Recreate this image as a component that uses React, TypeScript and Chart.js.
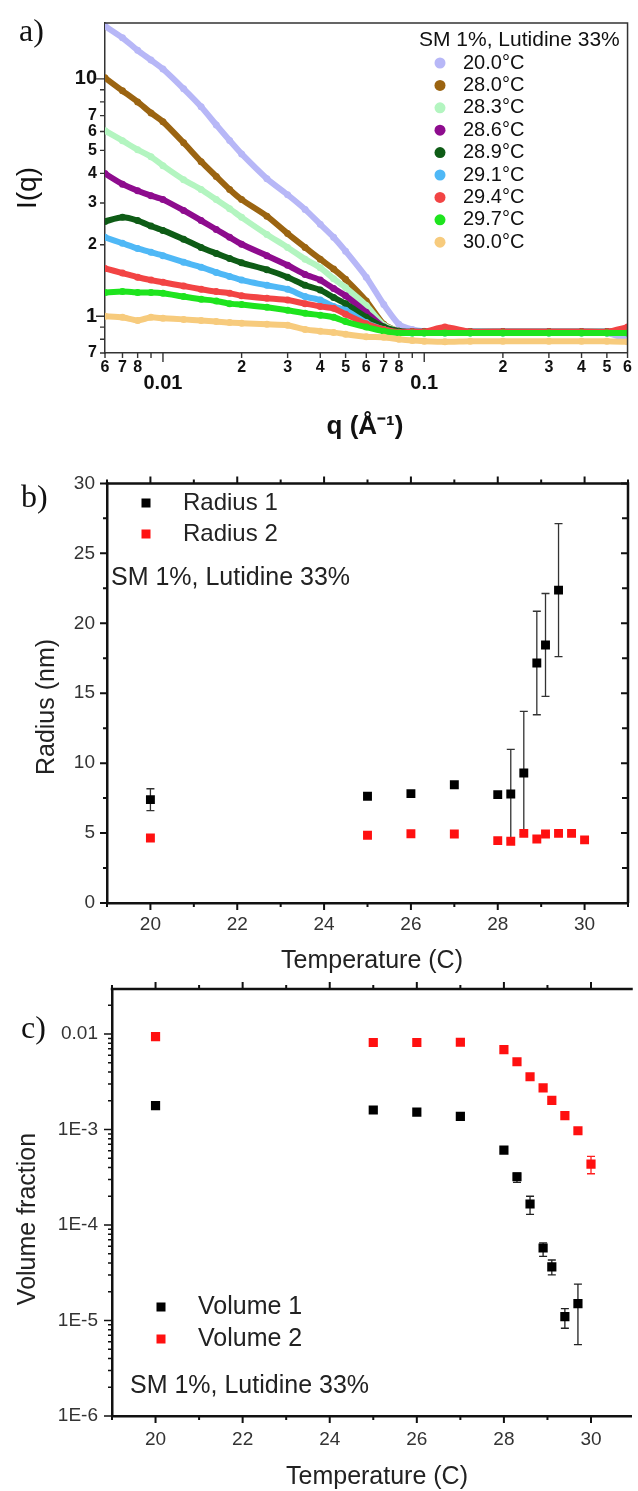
import React, { useEffect, useRef } from 'react';
import { Chart, registerables } from 'chart.js';
Chart.register(...registerables);

const SANS = '"Liberation Sans", Arial, Helvetica, sans-serif';
const SERIF = '"Liberation Serif", "Times New Roman", serif';
const W = 638;

// ---------------- Panel a : SAXS curves ----------------
const qValues = [0.006, 0.007, 0.008, 0.009, 0.01, 0.012, 0.014, 0.016, 0.018, 0.02, 0.025, 0.03, 0.035, 0.04, 0.045, 0.05, 0.06, 0.07, 0.08, 0.09, 0.1, 0.12, 0.15, 0.2, 0.3, 0.4, 0.5, 0.6];
const sasLabels = ['20.0°C', '28.0°C', '28.3°C', '28.6°C', '28.9°C', '29.1°C', '29.4°C', '29.7°C', '30.0°C'];
const sasColors = ['#b7b7f7', '#9b6411', '#b3f5c0', '#8e0c8e', '#0e5c16', '#4fb8f6', '#f24444', '#1ee41e', '#f7cb7d'];
const I_20_0 = [16.7, 14.9, 13.2, 12.0, 11.0, 9.08, 7.63, 6.4, 5.5, 4.83, 3.8, 3.25, 2.82, 2.44, 2.15, 1.88, 1.46, 1.12, 0.925, 0.88, 0.865, 0.86, 0.86, 0.86, 0.86, 0.86, 0.85, 0.8];
const I_28_0 = [10.1, 8.91, 8.0, 7.19, 6.6, 5.38, 4.48, 3.88, 3.42, 3.1, 2.64, 2.23, 1.95, 1.74, 1.58, 1.43, 1.16, 0.925, 0.865, 0.857, 0.857, 0.86, 0.855, 0.855, 0.855, 0.855, 0.855, 0.86];
const I_28_3 = [6.05, 5.49, 5.03, 4.7, 4.31, 3.76, 3.42, 3.1, 2.84, 2.61, 2.21, 1.95, 1.74, 1.6, 1.44, 1.32, 1.11, 0.917, 0.865, 0.86, 0.86, 0.86, 0.86, 0.86, 0.86, 0.86, 0.86, 0.86];
const I_28_6 = [3.99, 3.6, 3.38, 3.22, 3.1, 2.79, 2.53, 2.32, 2.15, 2.01, 1.8, 1.64, 1.5, 1.42, 1.31, 1.22, 1.04, 0.9, 0.865, 0.86, 0.86, 0.86, 0.86, 0.86, 0.86, 0.86, 0.86, 0.86];
const I_28_9 = [2.51, 2.61, 2.53, 2.4, 2.3, 2.11, 1.95, 1.84, 1.75, 1.68, 1.57, 1.46, 1.35, 1.29, 1.2, 1.13, 0.99, 0.9, 0.865, 0.86, 0.86, 0.86, 0.86, 0.86, 0.86, 0.86, 0.86, 0.86];
const I_29_1 = [2.15, 2.03, 1.93, 1.86, 1.8, 1.69, 1.61, 1.53, 1.47, 1.42, 1.35, 1.3, 1.21, 1.17, 1.1, 1.06, 0.94, 0.88, 0.85, 0.85, 0.85, 0.85, 0.85, 0.85, 0.85, 0.85, 0.85, 0.85];
const I_29_4 = [1.59, 1.52, 1.46, 1.42, 1.39, 1.34, 1.3, 1.27, 1.25, 1.22, 1.19, 1.17, 1.13, 1.1, 1.08, 1.02, 0.93, 0.88, 0.857, 0.86, 0.86, 0.9, 0.86, 0.86, 0.86, 0.86, 0.86, 0.9];
const I_29_7 = [1.26, 1.27, 1.26, 1.26, 1.25, 1.21, 1.18, 1.16, 1.13, 1.12, 1.09, 1.06, 1.03, 1.01, 0.99, 0.95, 0.9, 0.865, 0.85, 0.85, 0.85, 0.85, 0.85, 0.85, 0.85, 0.85, 0.85, 0.85];
const I_30_0 = [1.0, 0.99, 0.96, 0.99, 0.98, 0.97, 0.96, 0.95, 0.94, 0.935, 0.925, 0.917, 0.88, 0.865, 0.855, 0.84, 0.82, 0.816, 0.8, 0.79, 0.785, 0.78, 0.785, 0.785, 0.785, 0.785, 0.785, 0.78];
const sasSeries = [I_20_0, I_28_0, I_28_3, I_28_6, I_28_9, I_29_1, I_29_4, I_29_7, I_30_0];
const legendTitle = 'SM 1%, Lutidine 33%';

const xTicksA = [0.006, 0.007, 0.008, 0.009, 0.01, 0.02, 0.03, 0.04, 0.05, 0.06, 0.07, 0.08, 0.09, 0.1, 0.2, 0.3, 0.4, 0.5, 0.6];
const xTickTextA = ['6', '7', '8', '', '0.01', '2', '3', '4', '5', '6', '7', '8', '', '0.1', '2', '3', '4', '5', '6'];
const xMajorA = [0.01, 0.1];
const yTicksA = [0.7, 0.8, 0.9, 1, 2, 3, 4, 5, 6, 7, 8, 9, 10];
const yTickTextA = ['7', '', '', '1', '2', '3', '4', '5', '6', '7', '', '', '10'];
const yMajorA = [1, 10];

// ---------------- Panel b : radii ----------------
const tempsB = [20, 25, 26, 27, 28, 28.3, 28.6, 28.9, 29.1, 29.4, 29.7, 30.0];
const radius1 = [7.39, 7.63, 7.82, 8.45, 7.75, 7.79, 9.3, 17.16, 18.45, 22.37];
const radius1Err = [0.78, 0, 0, 0, 0, 3.2, 4.4, 3.7, 3.68, 4.75];
const radius2 = [4.65, 4.84, 4.95, 4.93, 4.46, 4.41, 4.98, 4.58, 4.93, 4.98, 4.98, 4.51];
const radiusLabels = ['Radius 1', 'Radius 2'];
const xTicksB = [19, 20, 21, 22, 23, 24, 25, 26, 27, 28, 29, 30, 31];
const xTickTextB = ['', '20', '', '22', '', '24', '', '26', '', '28', '', '30', ''];
const yTicksB = [0, 2.5, 5, 7.5, 10, 12.5, 15, 17.5, 20, 22.5, 25, 27.5, 30];
const yTickTextB = ['0', '', '5', '', '10', '', '15', '', '20', '', '25', '', '30'];

// ---------------- Panel c : volume fractions ----------------
const tempsC = [20, 25, 26, 27, 28, 28.3, 28.6, 28.9, 29.1, 29.4, 29.7, 30.0];
const vol1 = [1.78e-3, 1.6e-3, 1.52e-3, 1.37e-3, 6.09e-4, 3.2e-4, 1.66e-4, 5.74e-5, 3.64e-5, 1.1e-5, 1.5e-5];
const vol1ErrLow = [null, null, null, null, null, 2.79e-4, 1.29e-4, 4.7e-5, 3.0e-5, 8.3e-6, 5.6e-6];
const vol1ErrHigh = [null, null, null, null, null, 3.49e-4, 2.0e-4, 6.5e-5, 4.3e-5, 1.33e-5, 2.4e-5];
const vol2 = [9.4e-3, 8.15e-3, 8.15e-3, 8.2e-3, 6.87e-3, 5.12e-3, 3.57e-3, 2.73e-3, 2.02e-3, 1.4e-3, 9.7e-4, 4.33e-4];
const vol2ErrLow = [null, null, null, null, null, null, null, null, null, null, null, 3.44e-4];
const vol2ErrHigh = [null, null, null, null, null, null, null, null, null, null, null, 5.22e-4];
const volumeLabels = ['Volume 1', 'Volume 2'];
const xTicksC = [19, 20, 21, 22, 23, 24, 25, 26, 27, 28, 29, 30];
const xTickTextC = ['', '20', '', '22', '', '24', '', '26', '', '28', '', '30'];
const yMajorC = [1e-6, 1e-5, 1e-4, 1e-3, 1e-2];
const yMajorTextC = ['1E-6', '1E-5', '1E-4', '1E-3', '0.01'];

// ---------------- decoration plugin ----------------
type TickSpec = { axis: string; side: 'left' | 'right' | 'bottom' | 'top'; isMajor: (v: number) => boolean; major: number; minor: number; inward?: boolean; color: string; width: number };
type TextSpec = { text: string; x: number; y: number; font: string; color?: string; align?: CanvasTextAlign; baseline?: CanvasTextBaseline; rotate?: boolean };
type MarkSpec = { shape: 'circle' | 'square'; x: number; y: number; size: number; color: string };
type ErrSpec = { datasetIndex: number; low: (number | null)[]; high: (number | null)[]; color: string; cap: number };

function makeDeco(cfg: { offsetY: number; ticks: TickSpec[]; frame: { top?: boolean; right?: boolean; color: string; width: number }; errors?: ErrSpec[]; marks?: MarkSpec[]; texts?: TextSpec[] }) {
  return {
    id: 'deco',
    beforeDatasetsDraw(chart: any) {
      const ctx = chart.ctx;
      (cfg.errors || []).forEach((e) => {
        const meta = chart.getDatasetMeta(e.datasetIndex);
        const ys = chart.scales.y;
        ctx.save();
        ctx.strokeStyle = e.color;
        ctx.lineWidth = 1.3;
        meta.data.forEach((el: any, i: number) => {
          const lo = e.low[i];
          const hi = e.high[i];
          if (lo == null || hi == null) return;
          const x = el.x;
          const y1 = ys.getPixelForValue(lo);
          const y2 = ys.getPixelForValue(hi);
          ctx.beginPath();
          ctx.moveTo(x, y1); ctx.lineTo(x, y2);
          ctx.moveTo(x - e.cap, y1); ctx.lineTo(x + e.cap, y1);
          ctx.moveTo(x - e.cap, y2); ctx.lineTo(x + e.cap, y2);
          ctx.stroke();
        });
        ctx.restore();
      });
    },
    afterDraw(chart: any) {
      const ctx = chart.ctx;
      const a = chart.chartArea;
      ctx.save();
      ctx.strokeStyle = cfg.frame.color;
      ctx.lineWidth = cfg.frame.width;
      ctx.beginPath();
      if (cfg.frame.top) { ctx.moveTo(a.left - cfg.frame.width / 2, a.top); ctx.lineTo(a.right + cfg.frame.width / 2, a.top); }
      if (cfg.frame.right) { ctx.moveTo(a.right, a.top); ctx.lineTo(a.right, a.bottom); }
      ctx.stroke();
      cfg.ticks.forEach((t) => {
        const s = chart.scales[t.axis];
        ctx.strokeStyle = t.color;
        ctx.lineWidth = t.width;
        ctx.beginPath();
        s.ticks.forEach((tk: any) => {
          const v = tk.value;
          const p = s.getPixelForValue(v);
          const len = t.isMajor(v) ? t.major : t.minor;
          const dir = t.inward ? -1 : 1;
          if (t.side === 'left' || t.side === 'right') {
            if (p < a.top - 1 || p > a.bottom + 1) return;
            const x0 = t.side === 'left' ? a.left : a.right;
            const sign = t.side === 'left' ? -1 : 1;
            ctx.moveTo(x0, p); ctx.lineTo(x0 + sign * dir * len, p);
          } else {
            if (p < a.left - 1 || p > a.right + 1) return;
            const y0 = t.side === 'bottom' ? a.bottom : a.top;
            const sign = t.side === 'bottom' ? 1 : -1;
            ctx.moveTo(p, y0); ctx.lineTo(p, y0 + sign * dir * len);
          }
        });
        ctx.stroke();
      });
      (cfg.marks || []).forEach((m) => {
        ctx.fillStyle = m.color;
        const y = m.y - cfg.offsetY;
        if (m.shape === 'circle') {
          ctx.beginPath(); ctx.arc(m.x, y, m.size, 0, Math.PI * 2); ctx.fill();
        } else {
          ctx.fillRect(m.x - m.size / 2, y - m.size / 2, m.size, m.size);
        }
      });
      (cfg.texts || []).forEach((tx) => {
        ctx.save();
        ctx.font = tx.font;
        ctx.fillStyle = tx.color || '#111';
        ctx.textAlign = tx.align || 'left';
        ctx.textBaseline = tx.baseline || 'middle';
        const y = tx.y - cfg.offsetY;
        if (tx.rotate) {
          ctx.translate(tx.x, y);
          ctx.rotate(-Math.PI / 2);
          ctx.fillText(tx.text, 0, 0);
        } else {
          ctx.fillText(tx.text, tx.x, y);
        }
        ctx.restore();
      });
      ctx.restore();
    },
  };
}

const f = (size: number, weight = 'normal', family = SANS) => `${weight} ${size}px ${family}`;

// ---------------- Panel a config ----------------
const TOP_A = 0, H_A = 460;
function buildA() {
  const area = { left: 105, top: 23, right: 631, bottom: 353 };
  const deco = makeDeco({
    offsetY: TOP_A,
    frame: { top: true, right: true, color: '#333', width: 1.5 },
    ticks: [
      { axis: 'x', side: 'bottom', isMajor: (v) => xMajorA.some((m) => Math.abs(m - v) < 1e-9), major: 9, minor: 5, color: '#333', width: 1.4 },
      { axis: 'y', side: 'left', isMajor: (v) => yMajorA.some((m) => Math.abs(m - v) < 1e-9), major: 9, minor: 5, color: '#333', width: 1.4 },
    ],
    marks: sasColors.map((c, i) => ({ shape: 'circle' as const, x: 440, y: 63 + 22.4 * i, size: 5.5, color: c })),
    texts: [
      { text: 'a)', x: 19, y: 41, font: f(32, 'normal', SERIF), baseline: 'alphabetic' },
      { text: 'I(q)', x: 28, y: 188, font: f(28), rotate: true, align: 'center' },
      { text: 'q (Å⁻¹)', x: 365, y: 427, font: f(26, 'bold'), align: 'center' },
      { text: legendTitle, x: 419, y: 40, font: f(21) },
      ...sasLabels.map((l, i) => ({ text: l, x: 463, y: 63 + 22.4 * i, font: f(20) })),
    ],
  });
  return {
    type: 'line',
    data: {
      datasets: sasLabels.map((label, i) => ({
        label,
        data: qValues.map((q, j) => ({ x: q, y: sasSeries[i][j] })),
        borderColor: sasColors[i],
        backgroundColor: sasColors[i],
        borderWidth: 6,
        pointRadius: 3.5,
        pointBorderWidth: 0,
        tension: 0.2,
        fill: false,
        order: 9 - i,
      })),
    },
    options: {
      responsive: false,
      animation: false,
      events: [],
      layout: { padding: { left: 0, top: area.top, right: W - area.right, bottom: 0 } },
      plugins: { legend: { display: false }, tooltip: { enabled: false } },
      scales: {
        x: {
          type: 'logarithmic', min: 0.006, max: 0.6,
          afterFit: (s: any) => { s.height = H_A - area.bottom; },
          afterBuildTicks: (s: any) => { s.ticks = xTicksA.map((v) => ({ value: v })); },
          ticks: {
            autoSkip: false, maxRotation: 0, minRotation: 0, padding: 6, color: '#111',
            font: (c: any) => (xMajorA.includes(xTicksA[c.index]) ? { family: SANS, size: 20, weight: 'bold', lineHeight: '16px' } : { family: SANS, size: 16, weight: 'bold', lineHeight: '18px' }),
            callback: (_v: any, i: number) => (xMajorA.includes(xTicksA[i]) ? ['', xTickTextA[i]] : xTickTextA[i]),
          },
          grid: { display: true, drawOnChartArea: false, drawTicks: false },
          border: { display: true, color: '#333', width: 1.5 },
        },
        y: {
          type: 'logarithmic', min: 0.705, max: 17.2,
          afterFit: (s: any) => { s.width = area.left; },
          afterBuildTicks: (s: any) => { s.ticks = yTicksA.map((v) => ({ value: v })); },
          ticks: {
            autoSkip: false, padding: 8, color: '#111',
            font: (c: any) => (yMajorA.includes(yTicksA[c.index]) ? { family: SANS, size: 20, weight: 'bold' } : { family: SANS, size: 16, weight: 'bold' }),
            callback: (_v: any, i: number) => yTickTextA[i],
          },
          grid: { display: true, drawOnChartArea: false, drawTicks: false },
          border: { display: true, color: '#333', width: 1.5 },
        },
      },
    },
    plugins: [deco],
  };
}

// ---------------- Panel b config ----------------
const TOP_B = 460, H_B = 520;
function buildB() {
  const area = { left: 107, top: 477 - TOP_B, right: 636, bottom: 903 - TOP_B };
  const deco = makeDeco({
    offsetY: TOP_B,
    frame: { top: true, right: true, color: '#111', width: 2.5 },
    errors: [{ datasetIndex: 0, low: radius1.map((v, i) => (radius1Err[i] ? v - radius1Err[i] : null)), high: radius1.map((v, i) => (radius1Err[i] ? v + radius1Err[i] : null)), color: '#333', cap: 4 }],
    ticks: [
      { axis: 'x', side: 'bottom', isMajor: (v) => v % 2 === 0, major: 7, minor: 4, color: '#111', width: 2 },
      { axis: 'x', side: 'top', isMajor: (v) => v % 2 === 0, major: 7, minor: 4, color: '#111', width: 2 },
      { axis: 'y', side: 'left', isMajor: (v) => v % 5 === 0, major: 7, minor: 4, color: '#111', width: 2 },
      { axis: 'y', side: 'right', isMajor: (v) => v % 5 === 0, major: 7, minor: 6, inward: true, color: '#111', width: 2 },
    ],
    marks: [
      { shape: 'square', x: 146, y: 503, size: 9, color: '#000' },
      { shape: 'square', x: 146, y: 534, size: 9, color: '#ff1010' },
    ],
    texts: [
      { text: 'b)', x: 21, y: 507, font: f(32, 'normal', SERIF), baseline: 'alphabetic' },
      { text: radiusLabels[0], x: 183, y: 503, font: f(24), color: '#222' },
      { text: radiusLabels[1], x: 183, y: 534, font: f(24), color: '#222' },
      { text: legendTitle, x: 111, y: 578, font: f(25), color: '#222' },
      { text: 'Radius (nm)', x: 47, y: 707, font: f(25), rotate: true, align: 'center', color: '#222' },
      { text: 'Temperature (C)', x: 372, y: 961, font: f(25), align: 'center', color: '#222' },
    ],
  });
  return {
    type: 'scatter',
    data: {
      datasets: [
        { label: radiusLabels[0], data: radius1.map((v, i) => ({ x: tempsB[i], y: v })), pointStyle: 'rect', pointRadius: 6.3, pointBorderWidth: 0, backgroundColor: '#000', borderColor: '#000' },
        { label: radiusLabels[1], data: radius2.map((v, i) => ({ x: tempsB[i], y: v })), pointStyle: 'rect', pointRadius: 6.3, pointBorderWidth: 0, backgroundColor: '#ff1010', borderColor: '#ff1010' },
      ],
    },
    options: {
      responsive: false,
      animation: false,
      events: [],
      layout: { padding: { left: 0, top: area.top, right: W - area.right, bottom: 0 } },
      plugins: { legend: { display: false }, tooltip: { enabled: false } },
      scales: {
        x: {
          type: 'linear', min: 19, max: 31,
          afterFit: (s: any) => { s.height = H_B - area.bottom; },
          afterBuildTicks: (s: any) => { s.ticks = xTicksB.map((v) => ({ value: v })); },
          ticks: { autoSkip: false, maxRotation: 0, padding: 10, color: '#333', font: { family: SANS, size: 19 }, callback: (_v: any, i: number) => xTickTextB[i] },
          grid: { display: true, drawOnChartArea: false, drawTicks: false },
          border: { display: true, color: '#111', width: 2.5 },
        },
        y: {
          type: 'linear', min: 0, max: 30,
          afterFit: (s: any) => { s.width = area.left; },
          afterBuildTicks: (s: any) => { s.ticks = yTicksB.map((v) => ({ value: v })); },
          ticks: { autoSkip: false, padding: 12, color: '#333', font: { family: SANS, size: 19 }, callback: (_v: any, i: number) => yTickTextB[i] },
          grid: { display: true, drawOnChartArea: false, drawTicks: false },
          border: { display: true, color: '#111', width: 2.5 },
        },
      },
    },
    plugins: [deco],
  };
}

// ---------------- Panel c config ----------------
const TOP_C = 955, H_C = 536;
function buildC() {
  const area = { left: 112, top: 989 - TOP_C, right: 638, bottom: 1416 - TOP_C };
  const yTicksC: number[] = [];
  yMajorC.forEach((d) => { for (let m = 1; m <= 9; m++) { const v = d * m; if (v <= 0.0296) yTicksC.push(v); } });
  const isDecade = (v: number) => yMajorC.some((m) => Math.abs(v / m - 1) < 1e-6);
  const deco = makeDeco({
    offsetY: TOP_C,
    frame: { top: true, right: false, color: '#111', width: 2.5 },
    errors: [
      { datasetIndex: 0, low: vol1ErrLow, high: vol1ErrHigh, color: '#222', cap: 4 },
      { datasetIndex: 1, low: vol2ErrLow, high: vol2ErrHigh, color: '#ff2020', cap: 4 },
    ],
    ticks: [
      { axis: 'x', side: 'bottom', isMajor: (v) => v % 2 === 0, major: 7, minor: 4, color: '#111', width: 2 },
      { axis: 'x', side: 'top', isMajor: (v) => v % 2 === 0, major: 7, minor: 4, color: '#111', width: 2 },
      { axis: 'y', side: 'left', isMajor: isDecade, major: 8, minor: 4, color: '#111', width: 1.5 },
    ],
    marks: [
      { shape: 'square', x: 161, y: 1307, size: 9, color: '#000' },
      { shape: 'square', x: 161, y: 1339, size: 9, color: '#ff1010' },
    ],
    texts: [
      { text: 'c)', x: 21, y: 1038, font: f(32, 'normal', SERIF), baseline: 'alphabetic' },
      { text: volumeLabels[0], x: 198, y: 1307, font: f(25), color: '#222' },
      { text: volumeLabels[1], x: 198, y: 1339, font: f(25), color: '#222' },
      { text: legendTitle, x: 130, y: 1386, font: f(25), color: '#222' },
      { text: 'Volume fraction', x: 28, y: 1219, font: f(25), rotate: true, align: 'center', color: '#222' },
      { text: 'Temperature (C)', x: 377, y: 1477, font: f(25), align: 'center', color: '#222' },
    ],
  });
  return {
    type: 'scatter',
    data: {
      datasets: [
        { label: volumeLabels[0], data: vol1.map((v, i) => ({ x: tempsC[i], y: v })), pointStyle: 'rect', pointRadius: 6.5, pointBorderWidth: 0, backgroundColor: '#000', borderColor: '#000' },
        { label: volumeLabels[1], data: vol2.map((v, i) => ({ x: tempsC[i], y: v })), pointStyle: 'rect', pointRadius: 6.5, pointBorderWidth: 0, backgroundColor: '#ff1010', borderColor: '#ff1010' },
      ],
    },
    options: {
      responsive: false,
      animation: false,
      events: [],
      layout: { padding: { left: 0, top: area.top, right: W - area.right, bottom: 0 } },
      plugins: { legend: { display: false }, tooltip: { enabled: false } },
      scales: {
        x: {
          type: 'linear', min: 19, max: 30.93,
          afterFit: (s: any) => { s.height = H_C - area.bottom; },
          afterBuildTicks: (s: any) => { s.ticks = xTicksC.map((v) => ({ value: v })); },
          ticks: { autoSkip: false, maxRotation: 0, padding: 12, color: '#333', font: { family: SANS, size: 19 }, callback: (_v: any, i: number) => xTickTextC[i] },
          grid: { display: true, drawOnChartArea: false, drawTicks: false },
          border: { display: true, color: '#111', width: 2.5 },
        },
        y: {
          type: 'logarithmic', min: 1e-6, max: 0.0296,
          afterFit: (s: any) => { s.width = area.left; },
          afterBuildTicks: (s: any) => { s.ticks = yTicksC.map((v) => ({ value: v })); },
          ticks: {
            autoSkip: false, padding: 14, color: '#333', font: { family: SANS, size: 19 },
            callback: (v: any) => { const k = yMajorC.findIndex((m) => Math.abs(v / m - 1) < 1e-6); return k >= 0 ? yMajorTextC[k] : ''; },
          },
          grid: { display: true, drawOnChartArea: false, drawTicks: false },
          border: { display: true, color: '#111', width: 2.5 },
        },
      },
    },
    plugins: [deco],
  };
}

function ChartPanel({ top, height, build }: { top: number; height: number; build: () => any }) {
  const ref = useRef<HTMLCanvasElement>(null);
  useEffect(() => {
    const chart = new Chart(ref.current as HTMLCanvasElement, build());
    return () => chart.destroy();
  }, []);
  return (
    <div style={{ position: 'absolute', left: 0, top, width: W, height }}>
      <canvas ref={ref} width={W} height={height} style={{ display: 'block', width: W, height }} />
    </div>
  );
}

export default function App() {
  return (
    <div style={{ position: 'absolute', left: 0, top: 0, width: W, height: 1491, background: '#fff', overflow: 'hidden' }}>
      <ChartPanel top={TOP_A} height={H_A} build={buildA} />
      <ChartPanel top={TOP_B} height={H_B} build={buildB} />
      <ChartPanel top={TOP_C} height={H_C} build={buildC} />
    </div>
  );
}
